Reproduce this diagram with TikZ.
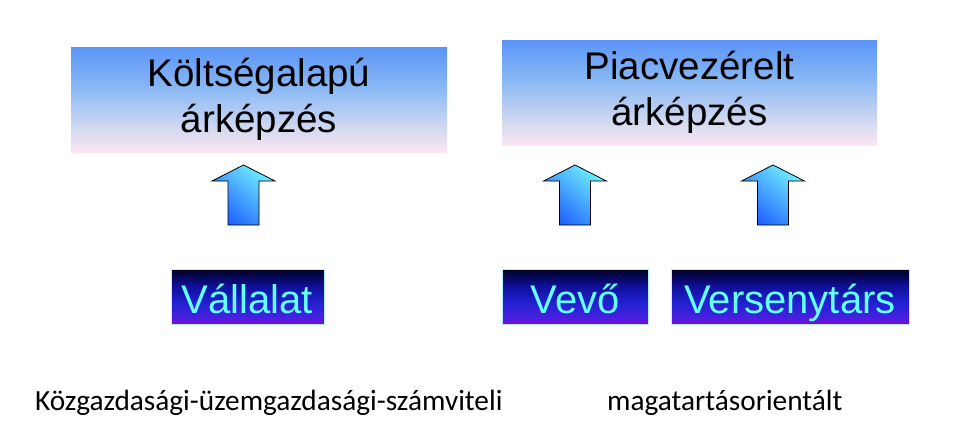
\documentclass[tikz,border=0pt]{standalone}
\usepackage{fontspec}
\setmainfont{Liberation Sans}
\newfontfamily\capfont{Carlito}
\definecolor{tbTop}{HTML}{5A94F6}
\definecolor{tbMid}{HTML}{8CBAF5}
\definecolor{tbLow}{HTML}{D6DBF0}
\definecolor{tbBot}{HTML}{FCE6F4}
\definecolor{bbTop}{HTML}{000020}
\definecolor{bbUp}{HTML}{0E0E98}
\definecolor{bbMid}{HTML}{2020D0}
\definecolor{bbLow}{HTML}{4A20E0}
\definecolor{bbBot}{HTML}{8C00D6}
\definecolor{arrCyan}{HTML}{70F0FF}
\definecolor{arrBlue}{HTML}{2060FF}
\definecolor{txtCyan}{HTML}{66FFFF}
\definecolor{edgeCyan}{HTML}{B8EEFF}
\pgfdeclareverticalshading{topboxsh}{100bp}{color(0bp)=(tbBot); color(25bp)=(tbBot); color(35bp)=(tbLow); color(55bp)=(tbMid); color(75bp)=(tbTop); color(100bp)=(tbTop)}
\pgfdeclareverticalshading{botboxsh}{100bp}{color(0bp)=(bbBot); color(25bp)=(bbBot); color(30bp)=(bbLow); color(45bp)=(bbMid); color(60bp)=(bbUp); color(75bp)=(bbTop); color(100bp)=(bbTop)}
\tikzset{
  topbox/.style={rectangle, shading=topboxsh, inner sep=0pt, minimum height=105pt, align=center, font=\fontsize{38.5}{46}\selectfont, text=black},
  botbox/.style={rectangle, shading=botboxsh, draw=edgeCyan, line width=0.4pt, inner sep=0pt, minimum height=55pt},
  bottext/.style={anchor=base, inner sep=0pt, font=\fontsize{40}{46}\selectfont, text=txtCyan},
  caption/.style={anchor=base west, inner sep=0pt, font=\capfont\fontsize{29.3}{34}\selectfont},
  uparrow/.style={draw=black, line width=0.8pt, line join=miter, top color=arrCyan, bottom color=arrBlue, shading angle=-40}
}
\newcommand\myuparrow[2]{%
  \path[uparrow] ([xshift=-15.5pt]#1 |- 0,225) -- ([xshift=-15.5pt]#1 |- 0,181)
    -- ([xshift=-31.5pt]#1 |- 0,181) -- (#1 |- 0,165) -- ([xshift=31.5pt]#1 |- 0,181)
    -- ([xshift=15.5pt]#1 |- 0,181) -- ([xshift=15.5pt]#1 |- 0,225) -- cycle;
  \coordinate (#2) at (#1 |- 0,195);
}
\begin{document}
\begin{tikzpicture}[x=1pt,y=-1pt]
\useasboundingbox (0,0) rectangle (957,440);
\fill[white] (0,0) rectangle (957,440);
% top boxes
\node[topbox, minimum width=376pt] (cost) at (259,99.5) {Költségalapú\\árképzés};
\node[topbox, minimum width=375pt] (market) at (689.5,92.5) {Piacvezérelt\\árképzés};
% bottom boxes
\node[botbox, minimum width=153pt] (firm) at (247.5,296.5) {};
\node[botbox, minimum width=146pt] (buyer) at (575,296.5) {};
\node[botbox, minimum width=238pt] (rival) at (790,296.5) {};
\node[bottext] (firmt) at (247.5,313) {Vállalat};
\node[bottext] (buyert) at (575,313) {Vevő};
\node[bottext] (rivalt) at (790,313) {Versenytárs};
% arrows
\coordinate (ax1) at (243.5,0);
\coordinate (ax2) at (575,0);
\coordinate (ax3) at (773,0);
\myuparrow{ax1}{arr1}
\myuparrow{ax2}{arr2}
\myuparrow{ax3}{arr3}
% captions
\node[caption] (cap1) at (35,410) {Közgazdasági-üzemgazdasági-számviteli};
\node[caption] (cap2) at (607,410) {magatartásorientált};
\end{tikzpicture}
\end{document}
